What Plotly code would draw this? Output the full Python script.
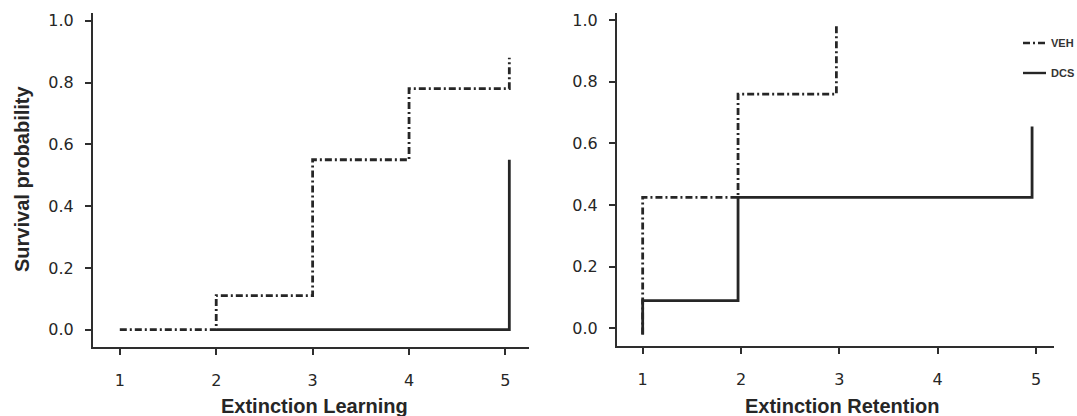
import plotly.graph_objects as go

# Kaplan-Meier style step curves: time point (session) and survival probability
learn_veh_x = [1, 2, 3, 4, 5.04]
learn_veh_y = [0.0, 0.11, 0.55, 0.78, 0.88]
learn_dcs_x = [2, 5.04]
learn_dcs_y = [0.0, 0.55]

ret_veh_x = [1, 1, 1.97, 2.97]
ret_veh_y = [-0.02, 0.425, 0.76, 0.99]
ret_dcs_x = [1, 1, 1.97, 4.96]
ret_dcs_y = [-0.02, 0.09, 0.425, 0.655]

x_ticks = [1, 2, 3, 4, 5]
y_ticks = [0.0, 0.2, 0.4, 0.6, 0.8, 1.0]
y_ticklabels = ["0.0", "0.2", "0.4", "0.6", "0.8", "1.0"]

groups = ["VEH", "DCS"]
panel_titles = ["Extinction Learning", "Extinction Retention"]
y_title = "Survival probability"

W, H = 1077, 416
INK = "#262626"
DASH = "7px,3px,2px,3px"
FONT = "Liberation Sans, Arial, sans-serif"
TICK_FONT = "DejaVu Sans, sans-serif"

fig = go.Figure()

def add_step(x, y, dash, xa, ya, name):
    fig.add_trace(go.Scatter(
        x=x, y=y, mode="lines", line_shape="hv", name=name,
        line=dict(color=INK, width=2.8, dash=dash),
        xaxis=xa, yaxis=ya, showlegend=False, hoverinfo="skip"))

add_step(learn_dcs_x, learn_dcs_y, "solid", "x", "y", groups[1])
add_step(learn_veh_x, learn_veh_y, DASH, "x", "y", groups[0])
add_step(ret_dcs_x, ret_dcs_y, "solid", "x2", "y2", groups[1])
add_step(ret_veh_x, ret_veh_y, DASH, "x2", "y2", groups[0])

def px_x(p):
    return p / W

def px_y(p):
    return (H - p) / H

axis_common = dict(
    showline=True, linewidth=2.2, linecolor="#2e2e2e", showgrid=False, zeroline=False,
    ticks="outside", ticklen=6, tickwidth=1.8, tickcolor="#2e2e2e",
    tickfont=dict(family=TICK_FONT, size=16, color="#262626"),
)

fig.update_layout(
    width=W, height=H,
    margin=dict(l=0, r=0, t=0, b=0, autoexpand=False),
    paper_bgcolor="white", plot_bgcolor="white",
    xaxis=dict(domain=[px_x(93), px_x(528.6)], range=[0.722, 5.24],
               tickvals=x_ticks, anchor="y", ticklabelstandoff=12, **axis_common),
    yaxis=dict(domain=[px_y(347), px_y(13)], range=[-0.056, 1.025],
               tickvals=y_ticks, ticktext=y_ticklabels, anchor="x",
               ticklabelstandoff=8, **axis_common),
    xaxis2=dict(domain=[px_x(617), px_x(1053.7)], range=[0.739, 5.18],
                tickvals=x_ticks, anchor="y2", ticklabelstandoff=12, **axis_common),
    yaxis2=dict(domain=[px_y(346), px_y(13.3)], range=[-0.057, 1.022],
                tickvals=y_ticks, ticktext=y_ticklabels, anchor="x2",
                ticklabelstandoff=8, **axis_common),
)

title_font = dict(family=FONT, size=20, color="#262626")
annotations = [
    dict(text="<b>%s</b>" % panel_titles[0], x=px_x(314), y=px_y(406),
         xref="paper", yref="paper", xanchor="center", yanchor="middle",
         showarrow=False, font=title_font),
    dict(text="<b>%s</b>" % panel_titles[1], x=px_x(842), y=px_y(406),
         xref="paper", yref="paper", xanchor="center", yanchor="middle",
         showarrow=False, font=title_font),
    dict(text="<b>%s</b>" % y_title, x=px_x(22), y=px_y(179),
         xref="paper", yref="paper", xanchor="center", yanchor="middle",
         textangle=-90, showarrow=False, font=title_font),
]

# Legend drawn at the top right: line sample plus group label
legend_rows = [(groups[0], DASH, 43), (groups[1], "solid", 73)]
shapes = []
for label, dash, ypix in legend_rows:
    shapes.append(dict(type="line", xref="paper", yref="paper",
                       x0=px_x(1023), x1=px_x(1046), y0=px_y(ypix), y1=px_y(ypix),
                       line=dict(color=INK, width=2.4, dash=dash)))
    annotations.append(dict(text="<b>%s</b>" % label, x=px_x(1049), y=px_y(ypix),
                            xref="paper", yref="paper", xanchor="left",
                            yanchor="middle", showarrow=False,
                            font=dict(family=FONT, size=11, color="#333")))

fig.update_layout(annotations=annotations, shapes=shapes)

fig.write_html("out.html")
